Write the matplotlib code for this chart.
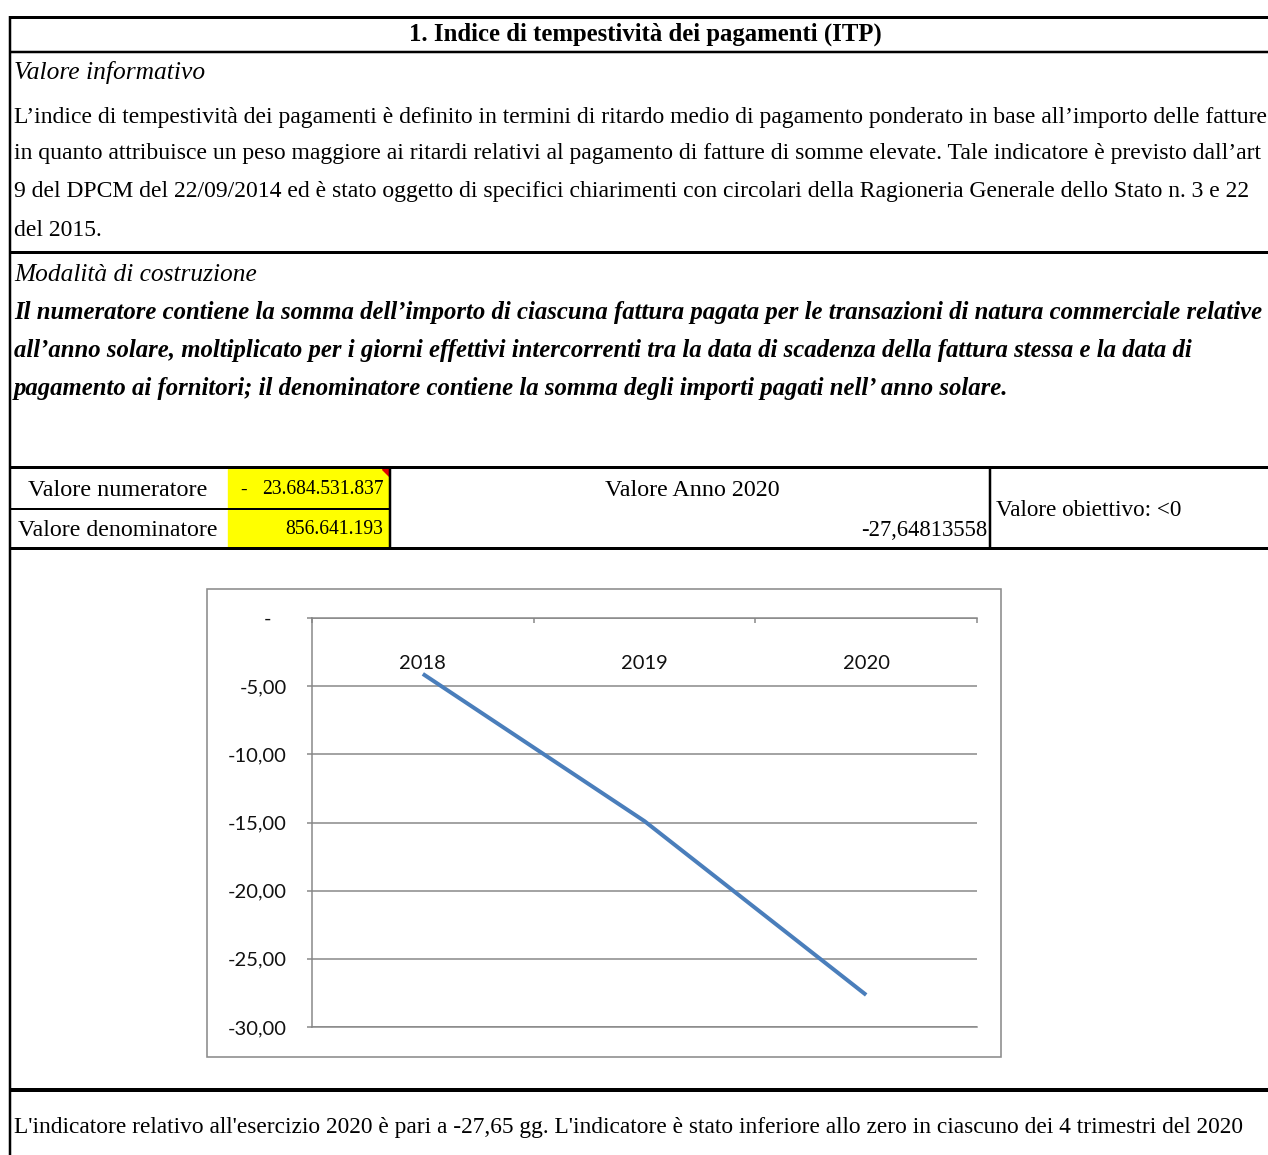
import matplotlib.pyplot as plt
from matplotlib.patches import Rectangle, Polygon
from matplotlib.ticker import FuncFormatter, FixedLocator

# ITP values by year; 2020 is the reported numerator / denominator ratio
numeratore = -23684531837
denominatore = 856641193
itp_2020 = -27.64813558
years = ['2018', '2019', '2020']
itp = [-4.1, -14.9, itp_2020]
y_ticks = [0, -5, -10, -15, -20, -25, -30]

SERIF = 'Liberation Serif'
W, H = 1268, 1155


def px(n):
    # pixel widths -> points at 100 dpi
    return n * 0.72


def it_num(v, dec=0):
    s = f'{v:,.{dec}f}'
    return s.replace(',', 'X').replace('.', ',').replace('X', '.')


fig = plt.figure(figsize=(W / 100, H / 100), dpi=100)
bg = fig.add_axes([0, 0, 1, 1])
bg.set_xlim(0, W)
bg.set_ylim(H, 0)
bg.axis('off')
renderer = fig.canvas.get_renderer()


def put(x, y, s, width=None, size=16, **kw):
    kw.setdefault('va', 'center')
    t = bg.text(x, y, s, fontsize=size, family=SERIF, color='black', **kw)
    if width:
        w = t.get_window_extent(renderer).width
        t.set_fontsize(size * width / w)
    return t


def hline(y, x0=10, x1=W, lw=3):
    bg.plot([x0, x1], [y, y], color='black', lw=px(lw), solid_capstyle='butt')


def vline(x, y0, y1, lw=2.5):
    bg.plot([x, x], [y0, y1], color='black', lw=px(lw), solid_capstyle='butt')


# table frame
hline(17, lw=3)
hline(52, lw=2.5)
hline(252, lw=3)
hline(467, lw=3)
hline(509, x0=10, x1=390, lw=2)
hline(548, lw=3)
hline(1090, lw=4)
vline(10, 16, H)
vline(390, 467, 548)
vline(990, 467, 548)

# yellow input cells and comment marker
bg.add_patch(Rectangle((228, 469), 161, 39, color='#ffff00', zorder=0))
bg.add_patch(Rectangle((228, 510), 161, 37, color='#ffff00', zorder=0))
bg.add_patch(Polygon([[382, 469], [389, 469], [389, 476]], color='#e00000', zorder=1))

# header and description
put(645, 34, '1. Indice di tempestività dei pagamenti (ITP)', width=474,
    ha='center', weight='bold')
put(14, 72, 'Valore informativo', width=191, style='italic')
body = [
    'L’indice di tempestività dei pagamenti è definito in termini di ritardo medio '
    'di pagamento ponderato in base all’importo delle fatture',
    'in quanto attribuisce un peso maggiore ai ritardi relativi al pagamento di fatture '
    'di somme elevate. Tale indicatore è previsto dall’art',
    '9 del DPCM del 22/09/2014 ed è stato oggetto di specifici chiarimenti con circolari '
    'della Ragioneria Generale dello Stato n. 3 e 22',
    'del 2015.',
]
t = put(14, 117, body[0], width=1254)
fs = t.get_fontsize()
for y, s in zip([154, 192, 230], body[1:]):
    put(14, y, s, size=fs)

put(14, 275, 'Modalità di costruzione', width=242, style='italic')
metodo = [
    'Il numeratore contiene la somma dell’importo di ciascuna fattura pagata per le '
    'transazioni di natura commerciale relative',
    'all’anno solare, moltiplicato per i giorni effettivi intercorrenti tra la data di '
    'scadenza della fattura stessa e la data di',
    'pagamento ai fornitori; il denominatore contiene la somma degli importi pagati '
    'nell’ anno solare.',
]
t = put(14, 312, metodo[0], width=1248, style='italic', weight='bold')
fs = t.get_fontsize()
for y, s in zip([350, 389], metodo[1:]):
    put(14, y, s, size=fs, style='italic', weight='bold')

# values row
put(118, 490, 'Valore numeratore', width=179, ha='center')
put(118, 530, 'Valore denominatore', width=200, ha='center')
put(240, 490, '-', size=14)
put(384, 490, it_num(abs(numeratore)), width=122, ha='right')
put(383, 530, it_num(denominatore), width=98, ha='right')
put(692, 490, 'Valore Anno 2020', width=175, ha='center')
put(987, 530, f'{itp_2020:.8f}'.replace('.', ','), width=126, ha='right')
put(996, 510, 'Valore obiettivo: <0', width=186)

# chart area border
bg.add_patch(Rectangle((207, 589), 794, 468, fill=False, edgecolor='#8c8c8c',
                       lw=px(1.6)))

# footer
put(14, 1128, "L'indicatore relativo all'esercizio 2020 è pari a "
    f"{it_num(itp_2020, 2)} gg. L'indicatore è stato inferiore allo zero "
    "in ciascuno dei 4 trimestri del 2020", width=1228)

# line chart
gray = '#868686'
ax = fig.add_axes([312 / W, (H - 1027) / H, 665 / W, 409 / H])
ax.set_facecolor('none')
ax.plot(range(len(years)), itp, color='#4a7ebb', lw=px(4), solid_capstyle='butt')
ax.set_xlim(-0.5, len(years) - 0.5)
ax.set_ylim(-30, 0)
ax.set_yticks(y_ticks)
ax.yaxis.set_major_formatter(FuncFormatter(
    lambda v, _: '-   ' if v == 0 else f'{v:.2f}'.replace('.', ',')))
ax.grid(axis='y', color=gray, lw=px(1.5))
for side in ['left', 'top', 'bottom']:
    ax.spines[side].set_color(gray)
    ax.spines[side].set_linewidth(px(1.5))
ax.spines['right'].set_visible(False)

ax.xaxis.set_ticks_position('top')
ax.set_xticks(range(len(years)))
ax.set_xticklabels(years)
ax.xaxis.set_minor_locator(FixedLocator([i - 0.5 for i in range(len(years) + 1)]))
ax.tick_params(axis='x', which='major', length=0, pad=-px(54), labelsize=14.5,
               labelcolor='#111111')
ax.tick_params(axis='x', which='minor', direction='in', length=px(5),
               color=gray, width=px(1.5))
ax.tick_params(axis='y', direction='out', length=px(5), color=gray,
               width=px(1.5), pad=px(20), labelsize=14.5, labelcolor='#111111')
for lab in ax.get_xticklabels() + ax.get_yticklabels():
    lab.set_family('Lato')

fig.savefig('out.png', dpi=100)
